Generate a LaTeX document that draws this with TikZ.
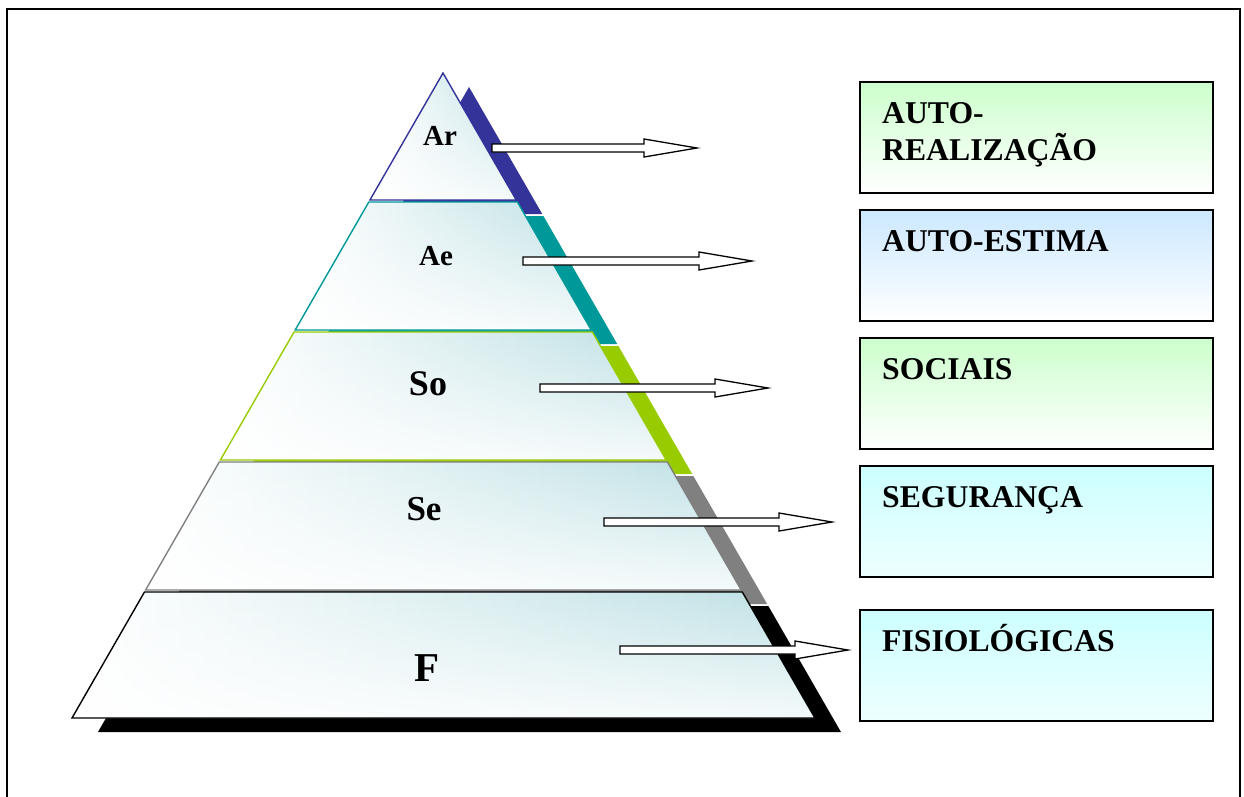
\documentclass[tikz,border=0pt]{standalone}
\usepackage{fontspec}
\setmainfont{Liberation Serif}
\usepackage{xcolor}
\usepackage{tikz}
\usetikzlibrary{calc, fadings, positioning}

\definecolor{arblue}{HTML}{333399}
\definecolor{aeteal}{HTML}{009999}
\definecolor{sogreen}{HTML}{99CC00}
\definecolor{segray}{HTML}{808080}
\definecolor{layertint}{HTML}{BDE0E4}
\definecolor{boxgreen}{HTML}{CCFFCC}
\definecolor{boxblue}{HTML}{CCE8FF}
\definecolor{boxcyan}{HTML}{CCFFFF}
\definecolor{boxcyanlight}{HTML}{EEFFFF}

\begin{document}
\begin{tikzpicture}[x=1pt, y=-1pt, >=latex,
    layer/.style={line width=1.2pt, left color=white, middle color=layertint!55,
        right color=layertint},
    blockarrow/.style={draw=black, fill=white, line width=1.3pt, line join=miter},
    needbox/.style={draw=black, line width=1.4pt, minimum width=353pt,
        minimum height=111pt, inner sep=0pt, outer sep=0pt},
    needtext/.style={font=\fontsize{31.7}{37}\selectfont\bfseries, inner sep=0pt,
        align=left},
    layertext/.style={font=\bfseries, inner sep=0pt, anchor=base}]
    \useasboundingbox (0,0) rectangle (1244,796);

    % 1. Khung ngoai
    \draw[line width=2pt] (7,810) -- (7,9) -- (1240,9) -- (1240,810);

    % 2. Bong cua cac tang
    \begin{scope}[shift={(26,14)}]
        \foreach \ya/\yb/\c in {73/200/arblue, 202/330/aeteal, 332/460/sogreen,
            462/590/segray, 592/718/black}
            \fill[\c] ({443-0.5752*(\ya-73)},\ya) -- ({443+0.5767*(\ya-73)},\ya)
                -- ({443+0.5767*(\yb-73)},\yb) -- ({443-0.5752*(\yb-73)},\yb) -- cycle;
    \end{scope}

    % 3. Cac tang cua kim tu thap
    \foreach \ya/\yb/\c in {73/200/arblue, 202/330/aeteal, 332/460/sogreen,
        462/590/segray, 592/718/black} {
        \shade[layer] ({443-0.5752*(\ya-73)},\ya) -- ({443+0.5767*(\ya-73)},\ya)
            -- ({443+0.5767*(\yb-73)},\yb) -- ({443-0.5752*(\yb-73)},\yb) -- cycle;
        \fill[white, opacity=0.85, path fading=north]
            ({443-0.5752*(\ya-73)},\ya) -- ({443+0.5767*(\ya-73)},\ya)
            -- ({443+0.5767*(\yb-73)},\yb) -- ({443-0.5752*(\yb-73)},\yb) -- cycle;
        \draw[\c, line width=1.4pt] ({443-0.5752*(\ya-73)},\ya) -- ({443+0.5767*(\ya-73)},\ya)
            -- ({443+0.5767*(\yb-73)},\yb) -- ({443-0.5752*(\yb-73)},\yb) -- cycle;
    }

    % 4. Nhan cac tang
    \node[layertext, font=\fontsize{29}{32}\selectfont\bfseries] (lAr) at (440,145) {Ar};
    \node[layertext, font=\fontsize{29}{32}\selectfont\bfseries] (lAe) at (436,265) {Ae};
    \node[layertext, font=\fontsize{36}{40}\selectfont\bfseries] (lSo) at (428,395) {So};
    \node[layertext, font=\fontsize{35}{40}\selectfont\bfseries] (lSe) at (424,520) {Se};
    \node[layertext, font=\fontsize{41}{45}\selectfont\bfseries] (lF) at (427,681) {F};

    % 5. Mui ten
    \foreach \tx/\hy/\px in {492/148/697, 523/261/752, 540/388/768,
        604/522/832, 620/650/848}
        \draw[blockarrow] (\tx,\hy-4) -- (\px-53,\hy-4) -- (\px-53,\hy-9)
            -- (\px,\hy) -- (\px-53,\hy+9) -- (\px-53,\hy+4) -- (\tx,\hy+4) -- cycle;

    % 6. Cac hop nhu cau
    \node[needbox, top color=boxgreen, bottom color=white] (bAr) at (1036.5,137.5) {};
    \node[needbox, top color=boxblue, bottom color=white] (bAe) at (1036.5,265.5) {};
    \node[needbox, top color=boxgreen, bottom color=white] (bSo) at (1036.5,393.5) {};
    \node[needbox, top color=boxcyan, bottom color=boxcyanlight] (bSe) at (1036.5,521.5) {};
    \node[needbox, top color=boxcyan, bottom color=boxcyanlight] (bF) at (1036.5,665.5) {};

    % 7. Chu trong hop
    \node[needtext, anchor=north west] (tAr) at ([shift={(22,20)}]bAr.north west) {AUTO-\\REALIZAÇÃO};
    \node[needtext, anchor=base west] (tAe) at ([shift={(22,41)}]bAe.north west) {AUTO-ESTIMA};
    \node[needtext, anchor=base west] (tSo) at ([shift={(22,41)}]bSo.north west) {SOCIAIS};
    \node[needtext, anchor=base west] (tSe) at ([shift={(22,41)}]bSe.north west) {SEGURANÇA};
    \node[needtext, anchor=base west] (tF) at ([shift={(22,41)}]bF.north west) {FISIOLÓGICAS};
\end{tikzpicture}
\end{document}
